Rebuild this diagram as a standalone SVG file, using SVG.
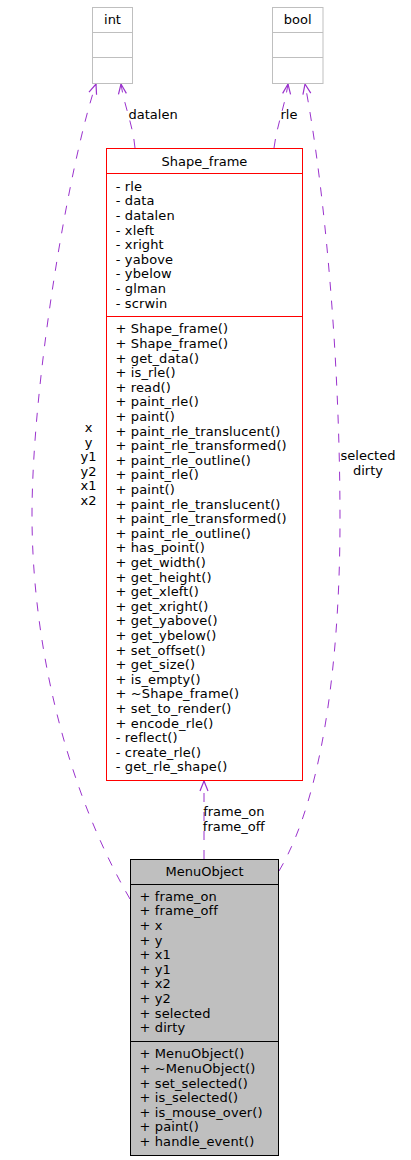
<svg xmlns="http://www.w3.org/2000/svg" width="411" height="1160" viewBox="0 0 411 1160">
<style>
text{font-family:"DejaVu Sans","Liberation Sans",sans-serif;font-size:13px;fill:#000}
.mid{text-anchor:middle}
.mem{letter-spacing:0.12px}
.ext{fill:#fff;stroke:#bfbfbf;stroke-width:1}
.cls{fill:#fff;stroke:#ff0000;stroke-width:1}
.cur{fill:#bfbfbf;stroke:#000;stroke-width:1}
.sepg{stroke:#bfbfbf;stroke-width:1}
.sepr{stroke:#ff0000;stroke-width:1}
.sepk{stroke:#000;stroke-width:1}
.edge{fill:none;stroke:#9a32cd;stroke-width:1;stroke-dasharray:9,10;marker-end:url(#open)}
</style>
<defs>
<marker id="open" viewBox="0 0 12 10" refX="11" refY="5" markerWidth="12" markerHeight="10" markerUnits="userSpaceOnUse" orient="auto">
<path d="M1,1 L11,5 L1,9" fill="none" stroke="#9a32cd" stroke-width="1.2"/>
</marker>
</defs>
<g id="connectors">
<path class="edge" d="M135,148 C133,125 124,105 121,84"/>
<path class="edge" d="M274,148 C277,125 285,105 288,84"/>
<path class="edge" d="M130,899 C64,785 32,640 32,515 C32,380 70,160 96,84"/>
<path class="edge" d="M279,871 C327,790 340,640 340,520 C340,360 325,190 305,84"/>
<path class="edge" d="M204,859 L204,781"/>
<text x="128.5" y="119">datalen</text>
<text x="280.5" y="119">rle</text>
<text class="mid" x="88.5" y="432">x</text>
<text class="mid" x="88.5" y="446.6">y</text>
<text class="mid" x="88.5" y="461.2">y1</text>
<text class="mid" x="88.5" y="475.8">y2</text>
<text class="mid" x="88.5" y="490.4">x1</text>
<text class="mid" x="88.5" y="505">x2</text>
<text class="mid" x="368" y="460">selected</text>
<text class="mid" x="368" y="474.6">dirty</text>
<text class="mid" x="233.8" y="816">frame_on</text>
<text class="mid" x="233.8" y="830.6">frame_off</text>
</g>
<g id="int">
<rect class="ext" x="92.5" y="7.5" width="40" height="76"/>
<line class="sepg" x1="92.5" y1="32.5" x2="132.5" y2="32.5"/>
<line class="sepg" x1="92.5" y1="57.5" x2="132.5" y2="57.5"/>
<text class="mid" x="112.5" y="24">int</text>
</g>
<g id="bool">
<rect class="ext" x="272.5" y="7.5" width="50.5" height="76"/>
<line class="sepg" x1="272.5" y1="32.5" x2="323" y2="32.5"/>
<line class="sepg" x1="272.5" y1="57.5" x2="323" y2="57.5"/>
<text class="mid" x="297.7" y="24">bool</text>
</g>
<g id="Shape_frame">
<rect class="cls" x="106.5" y="148.5" width="196" height="632"/>
<line class="sepr" x1="106.5" y1="173.5" x2="302.5" y2="173.5"/>
<line class="sepr" x1="106.5" y1="316.5" x2="302.5" y2="316.5"/>
<text class="mid" x="204.5" y="165.5">Shape_frame</text>
<text class="mem" x="115.8" y="190.7">- rle<tspan x="115.8" dy="14.6">- data</tspan><tspan x="115.8" dy="14.6">- datalen</tspan><tspan x="115.8" dy="14.6">- xleft</tspan><tspan x="115.8" dy="14.6">- xright</tspan><tspan x="115.8" dy="14.6">- yabove</tspan><tspan x="115.8" dy="14.6">- ybelow</tspan><tspan x="115.8" dy="14.6">- glman</tspan><tspan x="115.8" dy="14.6">- scrwin</tspan></text>
<text class="mem" x="115.5" y="333.3">+ Shape_frame()<tspan x="115.5" dy="14.6">+ Shape_frame()</tspan><tspan x="115.5" dy="14.6">+ get_data()</tspan><tspan x="115.5" dy="14.6">+ is_rle()</tspan><tspan x="115.5" dy="14.6">+ read()</tspan><tspan x="115.5" dy="14.6">+ paint_rle()</tspan><tspan x="115.5" dy="14.6">+ paint()</tspan><tspan x="115.5" dy="14.6">+ paint_rle_translucent()</tspan><tspan x="115.5" dy="14.6">+ paint_rle_transformed()</tspan><tspan x="115.5" dy="14.6">+ paint_rle_outline()</tspan><tspan x="115.5" dy="14.6">+ paint_rle()</tspan><tspan x="115.5" dy="14.6">+ paint()</tspan><tspan x="115.5" dy="14.6">+ paint_rle_translucent()</tspan><tspan x="115.5" dy="14.6">+ paint_rle_transformed()</tspan><tspan x="115.5" dy="14.6">+ paint_rle_outline()</tspan><tspan x="115.5" dy="14.6">+ has_point()</tspan><tspan x="115.5" dy="14.6">+ get_width()</tspan><tspan x="115.5" dy="14.6">+ get_height()</tspan><tspan x="115.5" dy="14.6">+ get_xleft()</tspan><tspan x="115.5" dy="14.6">+ get_xright()</tspan><tspan x="115.5" dy="14.6">+ get_yabove()</tspan><tspan x="115.5" dy="14.6">+ get_ybelow()</tspan><tspan x="115.5" dy="14.6">+ set_offset()</tspan><tspan x="115.5" dy="14.6">+ get_size()</tspan><tspan x="115.5" dy="14.6">+ is_empty()</tspan><tspan x="115.5" dy="14.6">+ ~Shape_frame()</tspan><tspan x="115.5" dy="14.6">+ set_to_render()</tspan><tspan x="115.5" dy="14.6">+ encode_rle()</tspan><tspan x="115.8" dy="14.6">- reflect()</tspan><tspan x="115.8" dy="14.6">- create_rle()</tspan><tspan x="115.8" dy="14.6">- get_rle_shape()</tspan></text>
</g>
<g id="MenuObject">
<rect class="cur" x="130.5" y="859.5" width="148" height="296"/>
<line class="sepk" x1="130.5" y1="884.5" x2="278.5" y2="884.5"/>
<line class="sepk" x1="130.5" y1="1041.5" x2="278.5" y2="1041.5"/>
<text class="mid" x="204.5" y="875.5">MenuObject</text>
<text class="mem" x="139.5" y="900.8">+ frame_on<tspan x="139.5" dy="14.6">+ frame_off</tspan><tspan x="139.5" dy="14.6">+ x</tspan><tspan x="139.5" dy="14.6">+ y</tspan><tspan x="139.5" dy="14.6">+ x1</tspan><tspan x="139.5" dy="14.6">+ y1</tspan><tspan x="139.5" dy="14.6">+ x2</tspan><tspan x="139.5" dy="14.6">+ y2</tspan><tspan x="139.5" dy="14.6">+ selected</tspan><tspan x="139.5" dy="14.6">+ dirty</tspan></text>
<text class="mem" x="139.5" y="1058.3">+ MenuObject()<tspan x="139.5" dy="14.6">+ ~MenuObject()</tspan><tspan x="139.5" dy="14.6">+ set_selected()</tspan><tspan x="139.5" dy="14.6">+ is_selected()</tspan><tspan x="139.5" dy="14.6">+ is_mouse_over()</tspan><tspan x="139.5" dy="14.6">+ paint()</tspan><tspan x="139.5" dy="14.6">+ handle_event()</tspan></text>
</g>
</svg>
